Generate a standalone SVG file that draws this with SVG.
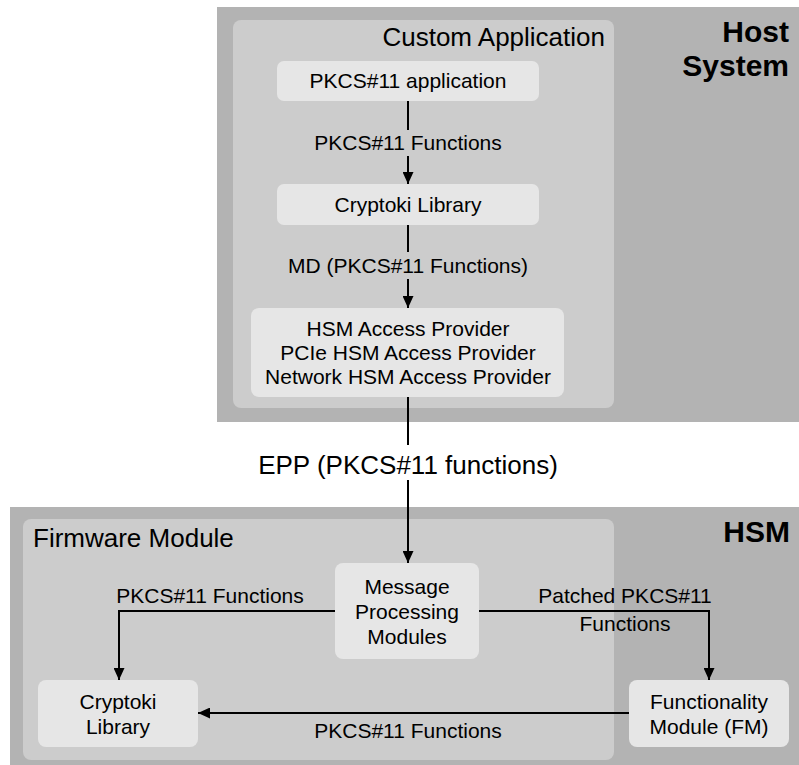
<svg xmlns="http://www.w3.org/2000/svg" width="799" height="765" viewBox="0 0 799 765" font-family="'Liberation Sans', Arial, Helvetica, sans-serif">
<style>
.outer{fill:#b3b3b3}
.inner{fill:#cccccc}
.box{fill:#e6e6e6}
text{font-family:'Liberation Sans',Arial,Helvetica,sans-serif;fill:#000}
.t{font-size:21px;text-anchor:middle}
.big{font-size:26px}
.bold{font-size:30px;font-weight:bold;text-anchor:end}
.ln{fill:none;stroke:#000;stroke-width:2}
</style>
<defs>
<marker id="ah" markerUnits="userSpaceOnUse" markerWidth="12" markerHeight="11" refX="12" refY="5.5" orient="auto">
<path d="M0,0 L12,5.5 L0,11 z" fill="#000"/>
</marker>
</defs>
<rect width="799" height="765" fill="#fff"/>
<g id="host-system">
<rect class="outer" x="217" y="7" width="582" height="415"/>
<text class="bold" x="789" y="42">Host</text>
<text class="bold" x="789" y="76">System</text>
</g>
<g id="custom-application">
<rect class="inner" x="233" y="20" width="381" height="388" rx="8"/>
<text class="big" x="605" y="46" text-anchor="end">Custom Application</text>
</g>
<g id="hsm">
<rect class="outer" x="10" y="507" width="789" height="258"/>
<text class="bold" x="790" y="542">HSM</text>
</g>
<g id="firmware-module">
<rect class="inner" x="23" y="519" width="591" height="241" rx="8"/>
<text class="big" x="33" y="547">Firmware Module</text>
</g>
<g id="pkcs11-application">
<rect class="box" x="277" y="61" width="262" height="40" rx="7"/>
<text class="t" x="408" y="88">PKCS#11 application</text>
</g>
<g id="cryptoki-library-host">
<rect class="box" x="277" y="184" width="262" height="41" rx="7"/>
<text class="t" x="408" y="212">Cryptoki Library</text>
</g>
<g id="hsm-access-provider">
<rect class="box" x="251" y="308" width="313" height="89" rx="8"/>
<text class="t" x="408" y="336">HSM Access Provider</text>
<text class="t" x="408" y="360">PCIe HSM Access Provider</text>
<text class="t" x="408" y="384">Network HSM Access Provider</text>
</g>
<g id="message-processing">
<rect class="box" x="335" y="563" width="144" height="96" rx="8"/>
<text class="t" x="407" y="594">Message</text>
<text class="t" x="407" y="619">Processing</text>
<text class="t" x="407" y="644">Modules</text>
</g>
<g id="cryptoki-library-hsm">
<rect class="box" x="38" y="680" width="160" height="67" rx="8"/>
<text class="t" x="118" y="709">Cryptoki</text>
<text class="t" x="118" y="734">Library</text>
</g>
<g id="functionality-module">
<rect class="box" x="629" y="680" width="160" height="67" rx="8"/>
<text class="t" x="709" y="709">Functionality</text>
<text class="t" x="709" y="734">Module (FM)</text>
</g>
<g id="connectors">
<path class="ln" d="M408,101 V130"/>
<path class="ln" d="M408,156 V184" marker-end="url(#ah)"/>
<text class="t" x="408" y="150">PKCS#11 Functions</text>
<path class="ln" d="M408,225 V252"/>
<path class="ln" d="M408,279 V308" marker-end="url(#ah)"/>
<text class="t" x="408" y="273">MD (PKCS#11 Functions)</text>
<path class="ln" d="M408,397 V445"/>
<path class="ln" d="M408,480 V563" marker-end="url(#ah)"/>
<text class="big" x="408" y="474" text-anchor="middle">EPP (PKCS#11 functions)</text>
<path class="ln" d="M335,611 H119 V680" marker-end="url(#ah)"/>
<text class="t" x="210" y="603">PKCS#11 Functions</text>
<path class="ln" d="M479,611 H709 V680" marker-end="url(#ah)"/>
<text class="t" x="625" y="603">Patched PKCS#11</text>
<text class="t" x="625" y="631">Functions</text>
<path class="ln" d="M629,713 H198" marker-end="url(#ah)"/>
<text class="t" x="408" y="738">PKCS#11 Functions</text>
</g>
</svg>
